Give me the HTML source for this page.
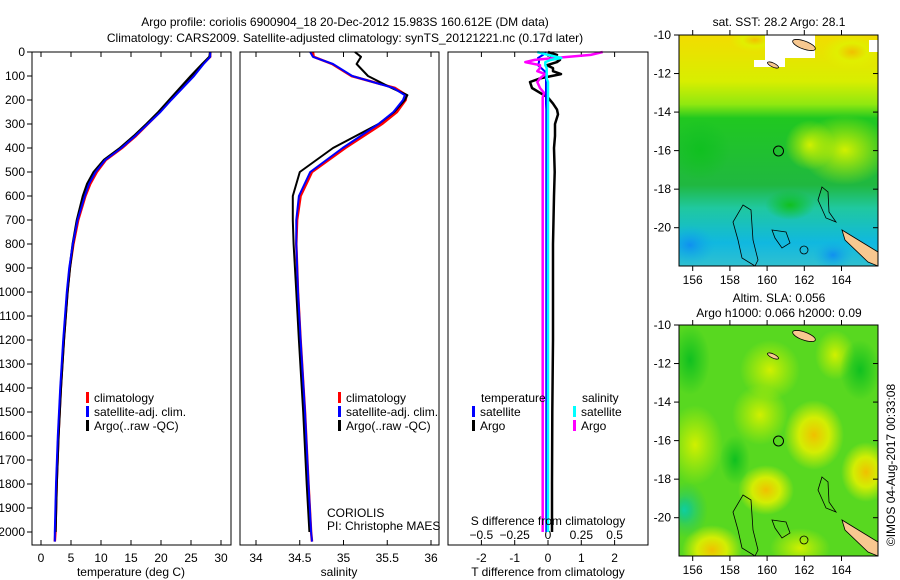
<!DOCTYPE html>
<html><head><meta charset="utf-8">
<style>
html,body{margin:0;padding:0;background:#fff;}
svg{display:block;font-family:"Liberation Sans",sans-serif;}
text{font-size:12px;fill:#000;}
</style></head>
<body>
<svg id="fig" width="900" height="580" viewBox="0 0 900 580" xmlns="http://www.w3.org/2000/svg">
<defs>
  <linearGradient id="sstGrad" x1="0" y1="0" x2="0" y2="1">
    <stop offset="0" stop-color="#f2dc00"/>
    <stop offset="0.2" stop-color="#d8ee00"/>
    <stop offset="0.3" stop-color="#90e810"/>
    <stop offset="0.36" stop-color="#20c820"/>
    <stop offset="0.65" stop-color="#20b840"/>
    <stop offset="0.75" stop-color="#20c8a0"/>
    <stop offset="0.9" stop-color="#10b8e0"/>
    <stop offset="1" stop-color="#30c0d0"/>
  </linearGradient>
  <radialGradient id="ylw"><stop offset="0" stop-color="#f0c000"/><stop offset="0.5" stop-color="#e0f000" stop-opacity="0.9"/><stop offset="1" stop-color="#e0f000" stop-opacity="0"/></radialGradient>
  <radialGradient id="lyl"><stop offset="0" stop-color="#d0f000"/><stop offset="1" stop-color="#c8f000" stop-opacity="0"/></radialGradient>
  <radialGradient id="dgr"><stop offset="0" stop-color="#10c020"/><stop offset="1" stop-color="#10c020" stop-opacity="0"/></radialGradient>
  <radialGradient id="cyn"><stop offset="0" stop-color="#10d0a0"/><stop offset="1" stop-color="#20c060" stop-opacity="0"/></radialGradient>
  <radialGradient id="blu"><stop offset="0" stop-color="#1090f0"/><stop offset="1" stop-color="#10b0e0" stop-opacity="0"/></radialGradient>
  <clipPath id="clipTop"><rect x="679" y="35" width="199" height="231"/></clipPath>
  <clipPath id="clipBot"><rect x="679" y="325" width="199" height="231"/></clipPath>
</defs>

<text x="345" y="26" text-anchor="middle">Argo profile: coriolis 6900904_18 20-Dec-2012 15.983S 160.612E (DM data)</text>
<text x="345" y="42" text-anchor="middle">Climatology: CARS2009. Satellite-adjusted climatology: synTS_20121221.nc (0.17d later)</text>

<g id="p1"></g>
<g id="p2"></g>
<g id="p3"></g>

<g>
  <text x="779" y="26" text-anchor="middle">sat. SST: 28.2 Argo: 28.1</text>
  <g clip-path="url(#clipTop)">
    <rect x="679" y="35" width="199" height="231" fill="url(#sstGrad)"/>
    <ellipse cx="845" cy="150" rx="45" ry="35" fill="url(#lyl)"/>
    <ellipse cx="810" cy="145" rx="25" ry="25" fill="url(#lyl)"/>
    <ellipse cx="852" cy="52" rx="30" ry="18" fill="url(#ylw)"/>
    <ellipse cx="755" cy="40" rx="25" ry="12" fill="url(#ylw)"/>
    <ellipse cx="700" cy="150" rx="30" ry="30" fill="url(#dgr)"/>
    <ellipse cx="690" cy="245" rx="25" ry="20" fill="url(#blu)"/>
    <ellipse cx="833" cy="255" rx="20" ry="15" fill="url(#blu)"/>
    <ellipse cx="790" cy="205" rx="25" ry="15" fill="url(#dgr)"/>
    <polygon points="765,35 815,35 815,58 785,58 785,67 754,67 754,60 765,60" fill="#fff"/>
    <rect x="869" y="40" width="9" height="12" fill="#fff"/>
    <ellipse cx="804" cy="45" rx="12" ry="4" transform="rotate(20 804 45)" fill="#f8c890" stroke="#000" stroke-width="0.8"/>
    <ellipse cx="773" cy="65" rx="6" ry="2" transform="rotate(25 773 65)" fill="#f8c890" stroke="#000" stroke-width="0.8"/>
    <polygon points="842,230 878,252 878,266 868,262 845,240" fill="#f8c890" stroke="#000" stroke-width="0.8"/>
    <path d="M743,205 L751,210 L753,240 L758,260 L755,266 L742,258 L738,240 L733,222 Z" fill="none" stroke="#000" stroke-width="0.8"/>
    <path d="M822,187 L828,192 L829,212 L836,222 L826,218 L818,200 Z" fill="none" stroke="#000" stroke-width="0.8"/>
    <path d="M772,230 L786,232 L790,243 L782,248 L775,238 Z" fill="none" stroke="#000" stroke-width="0.8"/>
    <circle cx="804" cy="250" r="4" fill="none" stroke="#000" stroke-width="0.8"/>
  </g>
  <circle cx="778.5" cy="151" r="5" fill="none" stroke="#000"/>
  <rect x="679" y="35" width="199" height="231" fill="none" stroke="#000"/>
  <g id="topAxes"></g>
</g>

<g>
  <text x="779" y="302" text-anchor="middle">Altim. SLA: 0.056</text>
  <text x="779" y="317" text-anchor="middle">Argo h1000: 0.066 h2000: 0.09</text>
  <g clip-path="url(#clipBot)">
    <rect x="679" y="325" width="199" height="231" fill="#58d820"/>
    <ellipse cx="814" cy="435" rx="30" ry="35" fill="url(#ylw)"/>
    <ellipse cx="695" cy="445" rx="28" ry="40" fill="url(#lyl)"/>
    <ellipse cx="760" cy="415" rx="28" ry="30" fill="url(#lyl)"/>
    <ellipse cx="766" cy="490" rx="28" ry="25" fill="url(#ylw)"/>
    <ellipse cx="866" cy="472" rx="25" ry="30" fill="url(#ylw)"/>
    <ellipse cx="712" cy="550" rx="30" ry="25" fill="url(#ylw)"/>
    <ellipse cx="800" cy="548" rx="30" ry="20" fill="url(#lyl)"/>
    <ellipse cx="770" cy="370" rx="30" ry="30" fill="url(#lyl)"/>
    <ellipse cx="835" cy="355" rx="20" ry="25" fill="url(#lyl)"/>
    <ellipse cx="690" cy="360" rx="20" ry="35" fill="url(#dgr)"/>
    <ellipse cx="860" cy="370" rx="20" ry="30" fill="url(#dgr)"/>
    <ellipse cx="735" cy="460" rx="15" ry="25" fill="url(#dgr)"/>
    <ellipse cx="686" cy="510" rx="22" ry="28" fill="url(#cyn)"/>
    <ellipse cx="684" cy="510" rx="10" ry="14" fill="url(#cyn)"/>
    <ellipse cx="804" cy="336" rx="12" ry="4" transform="rotate(20 804 336)" fill="#f8c890" stroke="#000" stroke-width="0.8"/>
    <ellipse cx="773" cy="356" rx="6" ry="2" transform="rotate(25 773 356)" fill="#f8c890" stroke="#000" stroke-width="0.8"/>
    <polygon points="842,520 878,542 878,556 868,552 845,530" fill="#f8c890" stroke="#000" stroke-width="0.8"/>
    <path d="M743,495 L751,500 L753,530 L758,550 L755,556 L742,548 L738,530 L733,512 Z" fill="none" stroke="#000" stroke-width="0.8"/>
    <path d="M822,477 L828,482 L829,502 L836,512 L826,508 L818,490 Z" fill="none" stroke="#000" stroke-width="0.8"/>
    <path d="M772,520 L786,522 L790,533 L782,538 L775,528 Z" fill="none" stroke="#000" stroke-width="0.8"/>
    <circle cx="804" cy="540" r="4" fill="none" stroke="#000" stroke-width="0.8"/>
  </g>
  <circle cx="778.5" cy="441" r="5" fill="none" stroke="#000"/>
  <rect x="679" y="325" width="199" height="231" fill="none" stroke="#000"/>
  <g id="botAxes"></g>
</g>
<text x="0" y="0" transform="translate(895,465) rotate(-90)" text-anchor="middle">©IMOS 04-Aug-2017 00:33:08</text>
</svg>

<script>
const tempDepth = [0,20,50,100,150,200,250,300,350,400,450,500,550,600,700,800,900,1000,1200,1400,1600,1800,2000,2040];
const tempClim  = [28.2,28.2,27.0,25.3,23.5,21.6,19.8,17.8,15.8,13.5,10.8,9.3,8.2,7.4,6.2,5.4,4.8,4.4,3.8,3.3,2.9,2.6,2.4,2.3];
const tempSat   = [28.2,28.2,27.1,25.5,23.6,21.7,19.9,17.8,15.7,13.4,10.7,9.1,8.0,7.3,6.1,5.3,4.7,4.3,3.7,3.2,2.8,2.5,2.3,2.3];
const tempArgo  = [28.2,28.1,26.9,25.0,23.2,21.4,19.6,17.6,15.5,13.2,10.5,8.8,7.7,7.0,6.0,5.3,4.8,4.4,3.8,3.3,2.9,2.6,2.4];
const salDepth  = [0,20,50,100,150,180,200,250,300,400,500,600,700,800,1000,1200,1500,1800,2000,2040];
const salClim   = [34.65,34.66,34.87,35.09,35.59,35.72,35.71,35.61,35.44,35.02,34.64,34.51,34.47,34.46,34.48,34.51,34.56,34.60,34.63,34.64];
const salSat    = [34.62,34.65,34.88,35.10,35.57,35.70,35.68,35.57,35.40,34.99,34.62,34.49,34.46,34.46,34.48,34.51,34.56,34.60,34.63,34.64];
const salArgo   = [35.13,35.20,35.15,35.28,35.55,35.73,35.70,35.58,35.40,34.88,34.50,34.42,34.42,34.43,34.46,34.49,34.54,34.58,34.61];
const diffDepth = [0,12,25,33,42,55,67,80,92,110,125,150,170,190,215,240,260,300,350,400,500,600,800,1000,1200,1500,1800,2000];
const tDiffArgo = [0.0,0.27,0.06,0.36,0.27,-0.03,0.15,0.15,0.39,-0.24,-0.54,-0.48,-0.24,0.0,0.15,0.27,0.30,0.21,0.21,0.18,0.2,0.18,0.15,0.15,0.15,0.13,0.12,0.12];
const tDiffSat  = [-0.06,-0.15,-0.3,-0.27,-0.27,-0.3,-0.2,-0.1,-0.09,-0.06,-0.06,-0.06,-0.06,-0.06,-0.06,-0.05,-0.05,-0.05,-0.05,-0.05,-0.05,-0.05,-0.05,-0.05,-0.05,-0.05,-0.05,-0.05];
const sDiffArgo = [0.41,0.32,0.05,-0.1,-0.17,-0.06,-0.06,-0.08,-0.02,-0.06,-0.08,-0.06,-0.03,-0.04,-0.04,-0.04,-0.04,-0.04,-0.04,-0.04,-0.04,-0.04,-0.04,-0.04,-0.04,-0.04,-0.04,-0.04];
const sDiffSat  = [-0.08,0.0,0.1,0.02,-0.02,-0.02,-0.01,-0.01,-0.01,-0.01,0.0,0.0,0.0,0.0,0.0,0.0,0.0,0.0,0.0,0.0,0.0,0.0,0.0,0.0,0.0,0.0,0.0,0.0];
const depthTicks = [0,100,200,300,400,500,600,700,800,900,1000,1100,1200,1300,1400,1500,1600,1700,1800,1900,2000];
const tempTicks = [0,5,10,15,20,25,30];
const salTicks = [34,34.5,35,35.5,36];
const tDiffTicks = [-2,-1,0,1,2];
const sDiffTicks = [-0.5,-0.25,0,0.25,0.5];
const sDiffTickLabels = ["\u22120.5","\u22120.25","0","0.25","0.5"];
const latTicks = [-10,-12,-14,-16,-18,-20];
const lonTicks = [156,158,160,162,164];

const NS = "http://www.w3.org/2000/svg";
function el(tag, attrs, parent){ const e=document.createElementNS(NS,tag); for(const k in attrs) e.setAttribute(k,attrs[k]); parent.appendChild(e); return e; }
const TOP=52, BOT=545;
const yDepth = d => TOP + d*0.24;
function line(parent, xs, ds, xf, color, w, name){
  const pts = xs.map((v,i)=>xf(v).toFixed(1)+","+yDepth(ds[i]).toFixed(1)).join(" ");
  const p = el("polyline",{points:pts,fill:"none",stroke:color,"stroke-width":w,"stroke-linejoin":"round"},parent);
  
  
}
function frame(parent, x0, x1, name){
  const r = el("rect",{x:x0,y:TOP,width:x1-x0,height:BOT-TOP,fill:"none",stroke:"#000"},parent);
  
  
}
function xTicks(parent, ticks, labels, xf, yl){
  ticks.forEach((t,i)=>{
    const x=xf(t);
    el("line",{x1:x,x2:x,y1:BOT,y2:BOT-5,stroke:"#000"},parent);
    el("line",{x1:x,x2:x,y1:TOP,y2:TOP+5,stroke:"#000"},parent);
    const tx=el("text",{x:x,y:yl,"text-anchor":"middle"},parent);
    tx.textContent=labels[i];
    
    
  });
}
function txt(parent,x,y,s,name,anchor){
  const t=el("text",{x:x,y:y,"text-anchor":anchor||"start"},parent); t.textContent=s;
  
  
}
function legendItem(parent,x,y,color,label){
  el("rect",{x:x,y:y-10,width:3,height:11,fill:color},parent);
  txt(parent,x+8,y,label,'legend-entry');
}

const p1=document.getElementById("p1");
const xT = t => 41 + t*6;
depthTicks.forEach(d=>{
  const y=yDepth(d);
  el("line",{x1:27,x2:32,y1:y,y2:y,stroke:"#000"},p1);
  txt(p1,25,y+4,String(d),'y-tick-label','end');
});
xTicks(p1,tempTicks,tempTicks.map(String),xT,562);
line(p1,tempClim,tempDepth,xT,"#f00",2.5,"climatology-temp-line");
line(p1,tempArgo,tempDepth,xT,"#000",2.5,"argo-temp-line");
line(p1,tempSat,tempDepth,xT,"#00f",2,"satellite-temp-line");
frame(p1,32,231,"temperature-frame");
txt(p1,131,576,"temperature (deg C)","x-axis-title","middle");
legendItem(p1,86,402,"#f00","climatology");
legendItem(p1,86,416,"#00f","satellite-adj. clim.");
legendItem(p1,86,430,"#000","Argo(..raw -QC)");

const p2=document.getElementById("p2");
const xS = s => 256 + (s-34)*87.5;
xTicks(p2,salTicks,salTicks.map(String),xS,562);
line(p2,salClim,salDepth,xS,"#f00",2.5,"climatology-salinity-line");
line(p2,salArgo,salDepth,xS,"#000",2,"argo-salinity-line");
line(p2,salSat,salDepth,xS,"#00f",2,"satellite-salinity-line");
frame(p2,240,439,"salinity-frame");
txt(p2,339,576,"salinity","x-axis-title","middle");
legendItem(p2,338,402,"#f00","climatology");
legendItem(p2,338,416,"#00f","satellite-adj. clim.");
legendItem(p2,338,430,"#000","Argo(..raw -QC)");
txt(p2,327,517,"CORIOLIS","institution-label");
txt(p2,327,530,"PI: Christophe MAES","pi-label");

const p3=document.getElementById("p3");
const xTd = v => 548 + v*33.3;
const xSd = v => 548 + v*133.3;
xTicks(p3,tDiffTicks,tDiffTicks.map(String),xTd,562);
sDiffTicks.forEach((t,i)=>txt(p3,xSd(t),539,sDiffTickLabels[i],'s-diff-tick-label','middle'));
line(p3,tDiffArgo,diffDepth,xTd,"#000",2.5,"argo-temp-diff-line");
line(p3,tDiffSat,diffDepth,xTd,"#00f",2,"satellite-temp-diff-line");
line(p3,sDiffArgo,diffDepth,xSd,"#f0f",2.5,"argo-sal-diff-line");
line(p3,sDiffSat,diffDepth,xSd,"#0ff",2.5,"satellite-sal-diff-line");
frame(p3,448,648,"difference-frame");
txt(p3,548,576,"T difference from climatology","x-axis-title","middle");
txt(p3,548,525,"S difference from climatology","s-axis-title","middle");
txt(p3,481,402,"temperature","legend-header");
txt(p3,582,402,"salinity","legend-header");
legendItem(p3,472,416,"#00f","satellite");
legendItem(p3,472,430,"#000","Argo");
legendItem(p3,573,416,"#0ff","satellite");
legendItem(p3,573,430,"#f0f","Argo");

function mapAxes(g, top){
  const lonX = l => 692.7 + (l-156)*18.6;
  const latY = l => top + (-10 - l)*19.27;
  latTicks.forEach(l=>{
    const y=latY(l);
    el("line",{x1:674,x2:679,y1:y,y2:y,stroke:"#000"},g);
    el("line",{x1:873,x2:878,y1:y,y2:y,stroke:"#000"},g);
    txt(g,671,y+4,String(l),'lat-tick-label','end');
  });
  lonTicks.forEach(l=>{
    const x=lonX(l);
    el("line",{x1:x,x2:x,y1:top,y2:top-5,stroke:"#000"},g);
    el("line",{x1:x,x2:x,y1:top+231,y2:top+236,stroke:"#000"},g);
    txt(g,x,top+249,String(l),'lon-tick-label','middle');
  });
}
mapAxes(document.getElementById("topAxes"),35);
mapAxes(document.getElementById("botAxes"),325);
</script>
</body></html>
